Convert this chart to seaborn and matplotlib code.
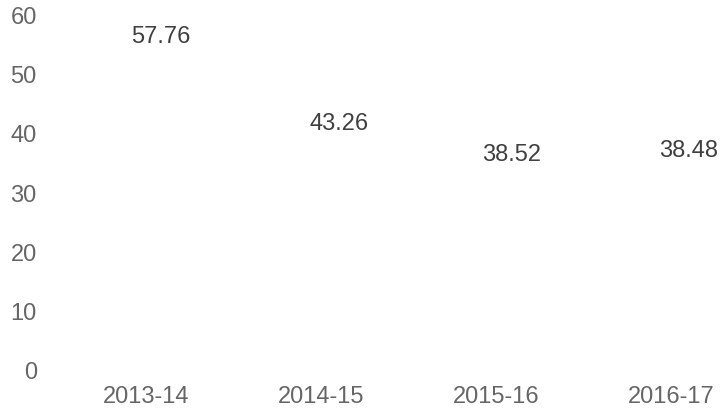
import matplotlib
matplotlib.use("Agg")
import matplotlib.pyplot as plt
import matplotlib.transforms as mtransforms
import seaborn as sns
import pandas as pd

categories = ["2013-14", "2014-15", "2015-16", "2016-17"]
values = [57.76, 43.26, 38.52, 38.48]
y_ticks = [0, 10, 20, 30, 40, 50, 60]

df = pd.DataFrame({"year": categories, "value": values})

sns.set_theme(style="white")
plt.rcParams["font.family"] = ["Liberation Sans", "DejaVu Sans"]

W, H = 724, 410
fig = plt.figure(figsize=(W / 100, H / 100), dpi=100)
# axes in pixel terms: left 50, right 724, top 15.5, bottom 370.5
ax = fig.add_axes([50 / W, 1 - 370.5 / H, (724 - 50) / W, (370.5 - 15.5) / H])

sns.barplot(data=df, x="year", y="value", ax=ax, facecolor="none",
            edgecolor="none", linewidth=0, errorbar=None)

ax.set_ylim(0, 60)
ax.set_xlim(-0.549, 3.303)
ax.set_yticks(y_ticks)
ax.set_xlabel("")
ax.set_ylabel("")
for s in ax.spines.values():
    s.set_visible(False)
ax.tick_params(axis="both", length=0, labelsize=17, labelcolor="#666666")
ax.tick_params(axis="y", pad=9.5)
ax.tick_params(axis="x", pad=11)

# label nudges in pixels (dx, dy) relative to the value point
nudges = [(15, -8.5), (18, -9.5), (16, -12.5), (18, -8)]
for i, (v, (dx, dy)) in enumerate(zip(values, nudges)):
    tr = mtransforms.offset_copy(ax.transData, fig=fig, x=dx, y=dy, units="dots")
    ax.text(i, v, f"{v:.2f}", transform=tr, ha="center", va="center",
            fontsize=17, color="#404040", clip_on=False)

fig.savefig("out.png", dpi=100)
